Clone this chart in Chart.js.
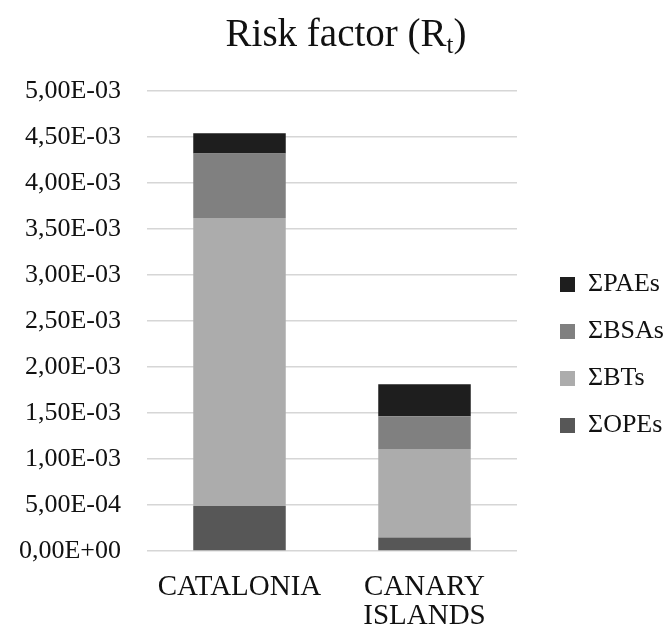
<!DOCTYPE html>
<html>
<head>
<meta charset="utf-8">
<script src="https://cdn.jsdelivr.net/npm/chart.js@4"></script>
<style>
  body { margin: 0; background: #fff; }
  #wrap { width: 669px; height: 627px; }
</style>
</head>
<body>
<div id="wrap"><canvas id="myChart"></canvas></div>
<script>
// data
const regions = ["CATALONIA", ["CANARY", "ISLANDS"]];
const opes = [0.00049, 0.000146];
const bts  = [0.00313, 0.000963];
const bsas = [0.00070, 0.000355];
const paes = [0.00022, 0.000348];

const yMin = 0;
const yMax = 0.005;
const yStep = 0.0005;

const serif = "'Liberation Serif', 'Times New Roman', serif";

// 5,00E-03 style labels
function sciLabel(v) {
    let parts = Number(v).toExponential(2).split("e");
    let mant = parts[0].replace(".", ",");
    let ex = parseInt(parts[1], 10);
    let sign = ex < 0 ? "-" : "+";
    let digits = String(Math.abs(ex)).padStart(2, "0");
    return mant + "E" + sign + digits;
}

// title with subscript t, drawn by hand
const titlePlugin = {
    id: "subTitle",
    afterDraw(chart) {
        const ctx = chart.ctx;
        ctx.save();
        ctx.fillStyle = "#111";
        ctx.textBaseline = "alphabetic";
        const bigFont = "39px " + serif;
        const smallFont = "25px " + serif;
        ctx.font = bigFont;
        let w1 = ctx.measureText("Risk factor (R").width;
        let w3 = ctx.measureText(")").width;
        ctx.font = smallFont;
        let w2 = ctx.measureText("t").width;
        let x = 346 - (w1 + w2 + w3) / 2;
        let y = 46;
        ctx.font = bigFont;
        ctx.fillText("Risk factor (R", x, y);
        ctx.font = smallFont;
        ctx.fillText("t", x + w1, y + 7);
        ctx.font = bigFont;
        ctx.fillText(")", x + w1 + w2, y);
        ctx.restore();
    }
};

// legend box is wider than its text; nudge the drawing to where it sits in the picture
const legendSpacer = {
    id: "legendSpacer",
    beforeLayout(chart) {
        const lg = chart.legend;
        if (lg && !lg._wrapped) {
            const fit = lg.fit;
            lg.fit = function () {
                fit.call(this);
                this.width = 152;
            };
            const draw = lg.draw;
            lg.draw = function () {
                const c = this.ctx;
                c.save();
                c.translate(22, -4);
                draw.apply(this, arguments);
                c.restore();
            };
            lg._wrapped = true;
        }
    }
};

const data = {
    labels: regions,
    datasets: [
        { label: "\u03A3OPEs", data: opes, backgroundColor: "#575757" },
        { label: "\u03A3BTs",  data: bts,  backgroundColor: "#acacac" },
        { label: "\u03A3BSAs", data: bsas, backgroundColor: "#808080" },
        { label: "\u03A3PAEs", data: paes, backgroundColor: "#1e1e1e" }
    ]
};

const config = {
    type: "bar",
    data: data,
    options: {
        responsive: true,
        maintainAspectRatio: false,
        animation: false,
        categoryPercentage: 1,
        barPercentage: 0.5,
        layout: { padding: { top: 91, left: 0, right: 0, bottom: 0 } },
        plugins: {
            title: { display: false },
            tooltip: { enabled: false },
            legend: {
                position: "right",
                reverse: true,
                labels: {
                    font: { family: serif, size: 26 },
                    color: "#111",
                    boxWidth: 15,
                    boxHeight: 15,
                    padding: 21
                }
            }
        },
        scales: {
            x: {
                stacked: true,
                grid: { display: false, drawTicks: false },
                border: { display: false },
                afterFit: function (scale) { scale.height = 76; },
                ticks: {
                    color: "#111",
                    font: { family: serif, size: 29, lineHeight: 1.03 },
                    padding: 21,
                    maxRotation: 0,
                    autoSkip: false
                }
            },
            y: {
                stacked: true,
                min: yMin,
                max: yMax,
                grid: { color: "#d6d6d6", lineWidth: 1.5, drawTicks: false },
                border: { display: false },
                afterFit: function (scale) { scale.width = 147; },
                ticks: {
                    stepSize: yStep,
                    color: "#111",
                    font: { family: serif, size: 26 },
                    padding: 26,
                    callback: function (v) { return sciLabel(v); }
                }
            }
        }
    },
    plugins: [titlePlugin, legendSpacer]
};

const renderingChart = new Chart(document.getElementById("myChart").getContext("2d"), config);
</script>
</body>
</html>
